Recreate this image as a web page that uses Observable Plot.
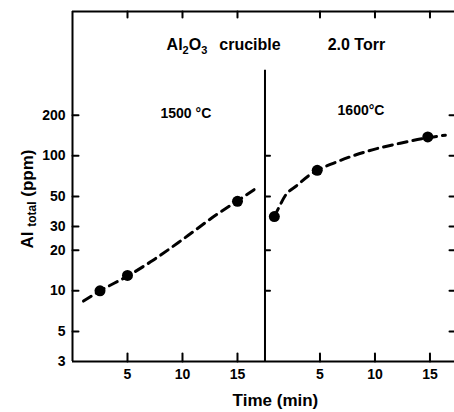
<!DOCTYPE html>
<html><head><meta charset="utf-8">
<script src="https://cdn.jsdelivr.net/npm/d3@7"></script>
<script src="https://cdn.jsdelivr.net/npm/@observablehq/plot@0.6"></script>
<style>body{margin:0;background:#fff;} svg{display:block;}</style>
</head><body><div id="chart"></div>
<script>
// ---- data ----
const panels = ["1500 °C", "1600°C"];
const panelOffset = [0, 17.5];          // right panel time axis starts at the divider
const dividerTime = 17.5;

const leftTimes = [2.5, 5, 15];
const leftAl = [10, 13, 46];
const rightTimes = [0.85, 4.75, 14.8];
const rightAl = [35.5, 78, 138];

const leftCurveT = [1, 2.5, 5.1, 7.1, 10.1, 13.2, 15, 16.9];
const leftCurveAl = [8.4, 10, 13, 16.4, 24.3, 37.2, 46.4, 59];
const rightCurveT = [0.85, 1.2, 1.85, 2.9, 4.0, 4.75, 6.2, 9.3, 12.3, 14.8, 16.4];
const rightCurveAl = [35.5, 40.5, 50.8, 60.3, 71.5, 78, 88, 108, 124, 136, 142];

const xTicks = [5, 10, 15];
const yTicks = [5, 10, 20, 30, 50, 100, 200];
const yTickLabels = [3, 5, 10, 20, 30, 50, 100, 200];
const dividerTicks = [10, 20, 50, 100];
const rightEdgeTicks = [5, 10, 20, 30, 50, 100, 200];

const yMin = 3, yMax = 1170, dividerTop = 430;
const xMax = 34.73;

// ---- tables ----
const points = [
  ...leftTimes.map((t, i) => ({x: t + panelOffset[0], y: leftAl[i]})),
  ...rightTimes.map((t, i) => ({x: t + panelOffset[1], y: rightAl[i]}))
];
const curves = [
  ...leftCurveT.map((t, i) => ({x: t + panelOffset[0], y: leftCurveAl[i], p: 0})),
  ...rightCurveT.map((t, i) => ({x: t + panelOffset[1], y: rightCurveAl[i], p: 1}))
];
const xTickData = panelOffset.flatMap(o => xTicks.map(t => ({x: t + o, label: String(t)})));

const tickShape = {draw(ctx, l) { ctx.moveTo(0, 0); ctx.lineTo(0, -l); }};
const font = "'Liberation Sans', Arial, Helvetica, sans-serif";

const plot = Plot.plot({
  width: 454, height: 412,
  marginLeft: 72, marginRight: 0, marginTop: 11, marginBottom: 51,
  style: {fontFamily: font, background: "white", color: "black"},
  x: {domain: [0, xMax], axis: null},
  y: {type: "log", domain: [yMin, yMax], axis: null},
  marks: [
    Plot.ruleX([0], {y1: yMin, y2: yMax, strokeWidth: 2}),
    Plot.ruleY([yMin], {strokeWidth: 2}),
    Plot.ruleY([yMax], {strokeWidth: 2}),
    Plot.ruleX([dividerTime], {y1: yMin, y2: dividerTop, strokeWidth: 2}),
    // inward ticks
    Plot.vector(yTicks, {x: 0, y: d => d, length: 6, rotate: 90, anchor: "start", shape: tickShape, strokeWidth: 2}),
    Plot.vector(dividerTicks, {x: dividerTime, y: d => d, length: 5, rotate: 90, anchor: "start", shape: tickShape, strokeWidth: 2}),
    Plot.vector(rightEdgeTicks, {x: xMax, y: d => d, length: 5, rotate: -90, anchor: "start", shape: tickShape, strokeWidth: 2}),
    Plot.vector(xTickData, {x: "x", y: yMin, length: 8, rotate: 0, anchor: "start", shape: tickShape, strokeWidth: 2}),
    Plot.vector(xTickData, {x: "x", y: yMax, length: 6, rotate: 180, anchor: "start", shape: tickShape, strokeWidth: 2}),
    // tick labels
    Plot.text(yTickLabels, {x: 0, y: d => d, text: d => String(d), dx: -7, textAnchor: "end", fontSize: 14, fontWeight: "bold"}),
    Plot.text(xTickData, {x: "x", y: yMin, text: "label", dy: 13, fontSize: 14, fontWeight: "bold"}),
    Plot.text(["Time (min)"], {x: 18.45, y: yMin, text: d => d, dy: 39, fontSize: 17, fontWeight: "bold"}),
    // panel labels
    Plot.text([panels[0]], {x: 8.0, y: 206, text: d => d, textAnchor: "start", fontSize: 14, fontWeight: "bold"}),
    Plot.text([panels[1]], {x: 24.1, y: 217, text: d => d, textAnchor: "start", fontSize: 14, fontWeight: "bold"}),
    Plot.text(["2.0 Torr"], {x: 23.2, y: 657, text: d => d, textAnchor: "start", fontSize: 16, fontWeight: "bold"}),
    // data
    Plot.line(curves, {x: "x", y: "y", z: "p", curve: "monotone-x", strokeWidth: 3, strokeDasharray: "9,6"}),
    Plot.dot(points, {x: "x", y: "y", r: 5.5, fill: "black"})
  ]
});
document.getElementById("chart").append(plot);

// texts with subscripts
const sx = plot.scale("x"), sy = plot.scale("y");
const svg = d3.select(plot);
const t1 = svg.append("text")
  .attr("x", sx.apply(8.6)).attr("y", sy.apply(657))
  .attr("dy", "0.35em").attr("text-anchor", "start")
  .attr("font-family", font).attr("font-size", 16).attr("font-weight", "bold");
t1.append("tspan").text("Al");
t1.append("tspan").attr("font-size", 11).attr("dy", 4).text("2");
t1.append("tspan").attr("dy", -4).text("O");
t1.append("tspan").attr("font-size", 11).attr("dy", 4).text("3");
t1.append("tspan").attr("dy", -4).attr("dx", 12).text("crucible");

const yl = svg.append("text")
  .attr("transform", "translate(33,199) rotate(-90)")
  .attr("text-anchor", "middle")
  .attr("font-family", font).attr("font-size", 17).attr("font-weight", "bold");
yl.append("tspan").text("Al ");
yl.append("tspan").attr("font-size", 12).attr("dy", 3).text("total");
yl.append("tspan").attr("dy", -3).text(" (ppm)");
</script></body></html>
